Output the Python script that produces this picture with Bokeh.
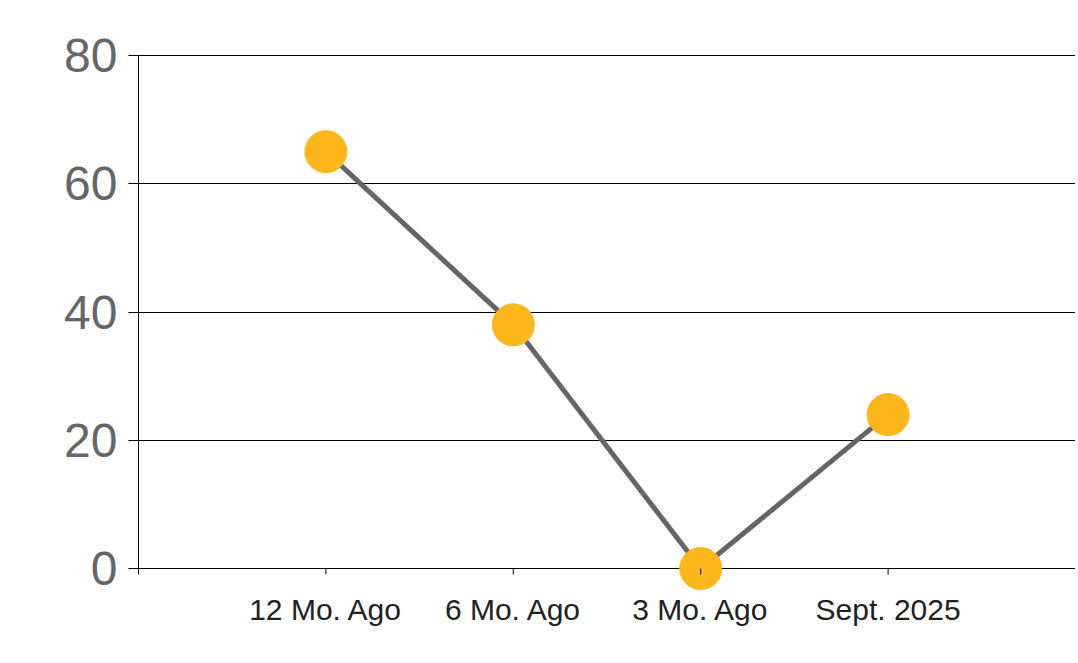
import math
from bokeh.plotting import figure
from bokeh.models import FixedTicker, Range1d, ColumnDataSource
from bokeh.core.properties import value
from bokeh.embed import file_html
from bokeh.resources import INLINE

categories = ["12 Mo. Ago", "6 Mo. Ago", "3 Mo. Ago", "Sept. 2025"]
values = [65, 38, 0, 24]
y_ticks = [0, 20, 40, 60, 80]

xs = list(range(1, len(categories) + 1))
src = ColumnDataSource(data=dict(x=xs, y=values, cat=categories, base=[0] * len(categories)))
x_ticks = list(range(1, len(categories) + 2))
tick_src = ColumnDataSource(data=dict(x=x_ticks, y=[0] * len(x_ticks)))

p = figure(width=1075, height=655, output_backend="svg", toolbar_location=None,
           x_range=Range1d(0, len(categories) + 1), y_range=Range1d(-12.0, 80.15),
           min_border_left=138, min_border_right=0, min_border_top=54, min_border_bottom=10)
p.outline_line_color = None
p.background_fill_color = "white"
p.border_fill_color = "white"
p.xaxis.visible = False

p.line("x", "y", source=src, line_color="#666666", line_width=5)
p.scatter("x", "y", source=src, size=42, fill_color="#FDB71B", line_color="#FDB71B")

# x-axis tick marks (6px, pointing down from the zero line)
p.ray("x", "y", source=tick_src, length=6, length_units="screen", angle=-math.pi / 2,
      line_color="black", line_width=1)

# category labels under the x axis
p.text("x", "base", text="cat", source=src, text_align="center", text_baseline="alphabetic",
       y_offset=41, text_font=value("Liberation Sans"), text_font_size="30px",
       text_color="#222222")

# y axis
p.yaxis.ticker = FixedTicker(ticks=y_ticks)
p.yaxis.bounds = (-0.94, 80)
p.yaxis.axis_line_color = "black"
p.yaxis.major_tick_line_color = "black"
p.yaxis.major_tick_in = 0
p.yaxis.major_tick_out = 10
p.yaxis.minor_tick_line_color = None
p.yaxis.major_label_text_font = "Liberation Sans"
p.yaxis.major_label_text_font_size = "48px"
p.yaxis.major_label_text_color = "#666666"
p.yaxis.major_label_standoff = 11

p.xgrid.grid_line_color = None
p.ygrid.ticker = FixedTicker(ticks=y_ticks)
p.ygrid.grid_line_color = "black"
p.ygrid.grid_line_width = 1

open("out.html", "w").write(file_html(p, INLINE))
